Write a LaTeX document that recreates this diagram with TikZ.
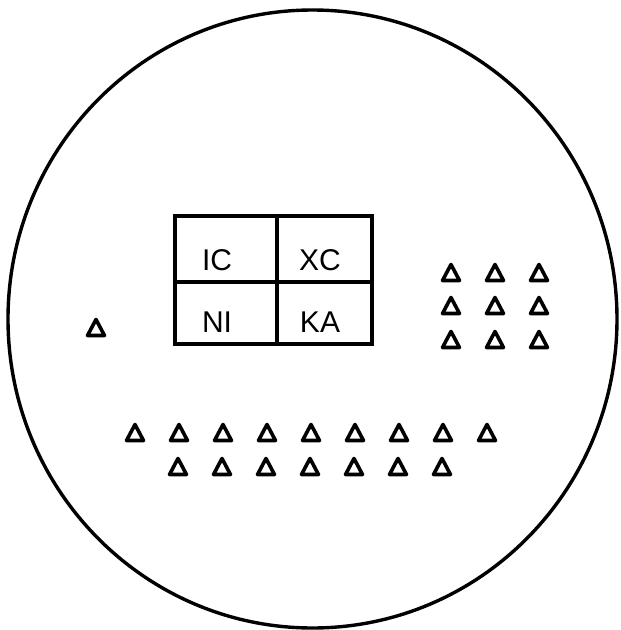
\documentclass[tikz,border=0pt]{standalone}
\usepackage{fontspec}
\setmainfont{Liberation Sans}
\begin{document}
\begin{tikzpicture}[x=1pt,y=-1pt,
  outline/.style={line width=3.4pt},
  gridline/.style={line width=3.2pt},
  lbl/.style={font=\fontsize{30}{32}\selectfont, inner sep=0pt},
  tri/.pic={\draw[line width=3.6pt, line join=round] (-8.5,7.5) -- (8.5,7.5) -- (0,-8.5) -- cycle;}]
\useasboundingbox (0,0) rectangle (621,630);
% outer circle
\draw[outline] (312.5,319) ellipse [x radius=304.5, y radius=309];
% 2x2 box
\draw[gridline] (175,216) rectangle (372,344);
\draw[gridline] (277,216) -- (277,344);
\draw[gridline] (175,282) -- (372,282);
\node[lbl] (ic) at (217,260) {IC};
\node[lbl] (xc) at (320,260) {XC};
\node[lbl] (ni) at (217,322) {NI};
\node[lbl] (ka) at (320,322) {KA};
% single triangle
\pic at (96,328) {tri};
% right 3x3 group
\foreach \x in {451,495,539}
  \foreach \y in {273,306,340}
    \pic at (\x,\y) {tri};
% bottom rows
\foreach \k in {0,...,8}
  \pic at (135+44*\k,433) {tri};
\foreach \k in {0,...,6}
  \pic at (178+44*\k,467) {tri};
\end{tikzpicture}
\end{document}
